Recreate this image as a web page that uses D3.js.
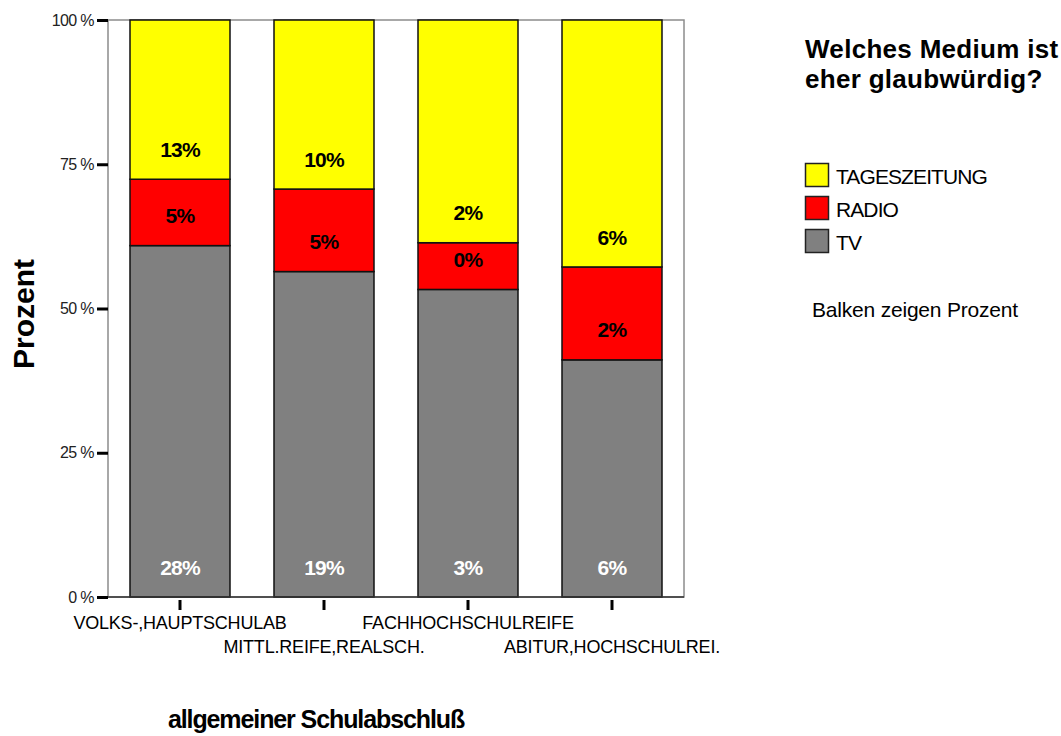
<!DOCTYPE html>
<html>
<head>
<meta charset="utf-8">
<script src="https://cdn.jsdelivr.net/npm/d3@7"></script>
<style>
  body { margin: 0; background: #fff; }
  svg { display: block; font-family: "Liberation Sans", Arial, sans-serif; }
</style>
</head>
<body>
<svg width="1061" height="736"></svg>
<script>
// schools, bottom axis
const categories = ["VOLKS-,HAUPTSCHULAB", "MITTL.REIFE,REALSCH.", "FACHHOCHSCHULREIFE", "ABITUR,HOCHSCHULREI."];
// stacked shares (percent of the bar)
const tvShare = [60.9, 56.4, 53.3, 41.1];
const radioShare = [11.5, 14.3, 8.1, 16.1];
const zeitungShare = [27.6, 29.3, 38.6, 42.8];
// printed labels inside the segments
const tvLabels = ["28%", "19%", "3%", "6%"];
const radioLabels = ["5%", "5%", "0%", "2%"];
const zeitungLabels = ["13%", "10%", "2%", "6%"];
const yTicks = [0, 25, 50, 75, 100];
const legendNames = ["TAGESZEITUNG", "RADIO", "TV"];

var svg = d3.select('svg');
var plot = { l: 108, r: 684, t: 20, b: 597 };

var x = d3.scaleBand()
  .domain(categories)
  .range([plot.l, plot.r])
  .paddingInner(0.3056)
  .paddingOuter(0.1528);

var y = d3.scaleLinear()
  .domain([0, 100])
  .range([plot.b, plot.t]);

var color = d3.scaleOrdinal()
  .domain(["TV", "RADIO", "TAGESZEITUNG"])
  .range(["#808080", "#ff0000", "#ffff00"]);

// build stacked rows
var rows = categories.map((c, i) => ({
  cat: c, TV: tvShare[i], RADIO: radioShare[i], TAGESZEITUNG: zeitungShare[i],
  labels: { TV: tvLabels[i], RADIO: radioLabels[i], TAGESZEITUNG: zeitungLabels[i] }
}));
var stack = d3.stack().keys(["TV", "RADIO", "TAGESZEITUNG"])(rows);

// frame
svg.append('rect')
  .attr('x', plot.l).attr('y', plot.t)
  .attr('width', plot.r - plot.l).attr('height', plot.b - plot.t)
  .attr('fill', 'none').attr('stroke', '#8c8c8c').attr('stroke-width', 1.5);

var layers = svg.append('g').selectAll('g')
  .data(stack).enter().append('g')
  .attr('fill', d => color(d.key));

layers.selectAll('rect')
  .data(d => d).enter().append('rect')
  .attr('x', d => x(d.data.cat))
  .attr('y', d => y(d[1]))
  .attr('width', x.bandwidth())
  .attr('height', d => y(d[0]) - y(d[1]))
  .attr('stroke', '#111')
  .attr('stroke-width', 1.5);

// segment labels, sitting near the bottom of each segment
layers.each(function(layer) {
  d3.select(this).selectAll('text')
    .data(layer).enter().append('text')
    .attr('x', d => x(d.data.cat) + x.bandwidth() / 2)
    .attr('y', d => y(d[0]) - 30)
    .attr('dy', '0.36em')
    .attr('text-anchor', 'middle')
    .attr('font-weight', 'bold')
    .attr('font-size', '21px')
    .attr('letter-spacing', '-0.8px')
    .attr('fill', layer.key === 'TV' ? '#fff' : '#000')
    .text(d => d.data.labels[layer.key]);
});

// bottom axis line
svg.append('line')
  .attr('x1', plot.l).attr('x2', plot.r)
  .attr('y1', plot.b).attr('y2', plot.b)
  .attr('stroke', '#333').attr('stroke-width', 1.5);

// y axis
var yAxis = d3.axisLeft(y).tickValues(yTicks).tickFormat(d => d + ' %').tickSize(11).tickPadding(3);
var yG = svg.append('g')
  .attr('transform', `translate(${plot.l}, 0)`)
  .call(yAxis);
yG.select('.domain').remove();
yG.selectAll('.tick line').attr('stroke', '#000').attr('stroke-width', 3);
yG.selectAll('.tick text')
  .attr('font-size', '16px')
  .attr('letter-spacing', '-0.6px')
  .attr('fill', '#222')
  .attr('font-family', '"Liberation Sans", Arial, sans-serif');

// x axis, labels staggered over two rows
var xAxis = d3.axisBottom(x).tickSize(10).tickSizeOuter(0);
var xG = svg.append('g')
  .attr('transform', `translate(0, ${plot.b + 3})`)
  .call(xAxis);
xG.select('.domain').remove();
xG.selectAll('.tick line').attr('stroke', '#000').attr('stroke-width', 3);
xG.selectAll('.tick text')
  .attr('font-size', '18px')
  .attr('fill', '#000')
  .attr('font-family', '"Liberation Sans", Arial, sans-serif')
  .attr('letter-spacing', '-0.2px')
  .attr('dy', null)
  .attr('y', (d, i) => i % 2 === 0 ? 29 : 53);

// axis titles
svg.append('text')
  .attr('transform', 'translate(34, 314) rotate(-90)')
  .attr('text-anchor', 'middle')
  .attr('font-weight', 'bold')
  .attr('font-size', '30px')
  .text('Prozent');

svg.append('text')
  .attr('x', 316).attr('y', 728)
  .attr('text-anchor', 'middle')
  .attr('font-weight', 'bold')
  .attr('font-size', '25px')
  .attr('letter-spacing', '-1.1px')
  .text('allgemeiner Schulabschluß');

// legend
var legend = svg.append('g').attr('transform', 'translate(805, 0)');
legend.append('text')
  .attr('y', 58)
  .attr('font-weight', 'bold').attr('font-size', '26px').attr('letter-spacing', '0.3px')
  .text('Welches Medium ist');
legend.append('text')
  .attr('y', 88)
  .attr('font-weight', 'bold').attr('font-size', '26px').attr('letter-spacing', '0.3px')
  .text('eher glaubwürdig?');

var items = legend.selectAll('.item')
  .data(legendNames).enter().append('g')
  .attr('class', 'item')
  .attr('transform', (d, i) => `translate(0, ${163 + i * 33})`);
items.append('rect')
  .attr('x', 0.5).attr('y', 0.5)
  .attr('width', 23).attr('height', 23)
  .attr('fill', d => color(d))
  .attr('stroke', '#222').attr('stroke-width', 1.5);
items.append('text')
  .attr('x', 31).attr('y', 13).attr('dy', '0.36em')
  .attr('font-size', '21px')
  .attr('letter-spacing', '-0.9px')
  .text(d => d);

legend.append('text')
  .attr('x', 7).attr('y', 317)
  .attr('font-size', '21px')
  .attr('letter-spacing', '-0.2px')
  .text('Balken zeigen Prozent');
</script>
</body>
</html>
